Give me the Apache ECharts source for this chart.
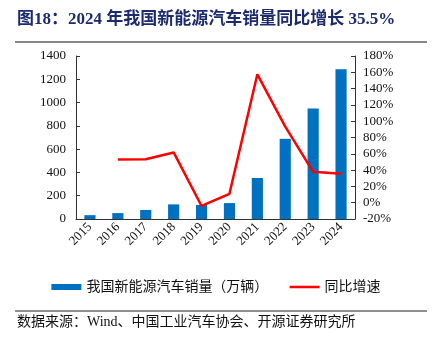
<!DOCTYPE html>
<html><head><meta charset="utf-8">
<script src="https://cdn.jsdelivr.net/npm/echarts@6/dist/echarts.min.js"></script>
<style>html,body{margin:0;padding:0;background:#fff}#c{width:432px;height:346px}</style>
</head><body><div id="c"></div>
<script>
const categories = ['2015','2016','2017','2018','2019','2020','2021','2022','2023','2024'];
const salesValues = [33.1, 50.7, 77.7, 125.6, 120.6, 136.7, 352.1, 688.7, 949.5, 1286.6];
const growthValues = [null, 53.0, 53.3, 61.7, -4.0, 10.9, 157.5, 93.4, 37.9, 35.5];
const leftTicks = {min: 0, max: 1400, interval: 200};
const rightTicks = {min: -20, max: 180, interval: 20};

const serif = '"Liberation Serif","Times New Roman","Noto Sans CJK SC",serif';
const chart = echarts.init(document.getElementById('c'));
chart.setOption({
  animation: false,
  graphic: [
    {type: 'text', left: 17, top: 11, style: {text: '图18：2024 年我国新能源汽车销量同比增长 35.5%', font: 'bold 17px ' + serif, fill: '#1c2a6e'}},
    {type: 'rect', shape: {x: 15, y: 41, width: 412, height: 2}, style: {fill: '#888'}},
    {type: 'rect', shape: {x: 15, y: 310.5, width: 412, height: 1}, style: {fill: '#222'}},
    {type: 'text', left: 17, top: 315, style: {text: '数据来源：Wind、中国工业汽车协会、开源证券研究所', font: '14px ' + serif, fill: '#111'}}
  ],
  legend: {
    top: 275, left: 'center', itemGap: 20, itemWidth: 30, itemHeight: 6,
    textStyle: {fontFamily: serif, fontSize: 14, color: '#111'},
    data: [{name: '我国新能源汽车销量（万辆）', icon: 'rect'},
           {name: '同比增速', itemStyle: {opacity: 0}, lineStyle: {color: '#ff0000', width: 2.5, opacity: 1}}]
  },
  grid: {left: 76, right: 77, top: 56, bottom: 127},
  xAxis: {
    type: 'category', data: categories,
    axisLine: {lineStyle: {color: '#333'}},
    axisTick: {inside: true, alignWithLabel: false, length: 4, lineStyle: {color: '#333'}},
    axisLabel: {rotate: 45, fontFamily: serif, fontSize: 13, color: '#111', margin: 6}
  },
  yAxis: [
    {type: 'value', min: leftTicks.min, max: leftTicks.max, interval: leftTicks.interval,
     splitLine: {show: false},
     axisLine: {show: true, lineStyle: {color: '#333'}},
     axisTick: {show: true, inside: true, length: 4, lineStyle: {color: '#333'}},
     axisLabel: {fontFamily: serif, fontSize: 13, color: '#111', margin: 10, formatter: v => String(v)}},
    {type: 'value', min: rightTicks.min, max: rightTicks.max, interval: rightTicks.interval,
     splitLine: {show: false},
     axisLine: {show: true, lineStyle: {color: '#333'}},
     axisTick: {show: true, inside: true, length: 4, lineStyle: {color: '#333'}},
     axisLabel: {fontFamily: serif, fontSize: 13, color: '#111', margin: 8, formatter: '{value}%'}}
  ],
  series: [
    {name: '我国新能源汽车销量（万辆）', type: 'bar', data: salesValues, barWidth: '40%',
     itemStyle: {color: '#0070c0'}},
    {name: '同比增速', type: 'line', yAxisIndex: 1, data: growthValues, symbol: 'none',
     lineStyle: {color: '#ff0000', width: 2.5}, itemStyle: {color: '#ff0000'}}
  ]
});
</script></body></html>
